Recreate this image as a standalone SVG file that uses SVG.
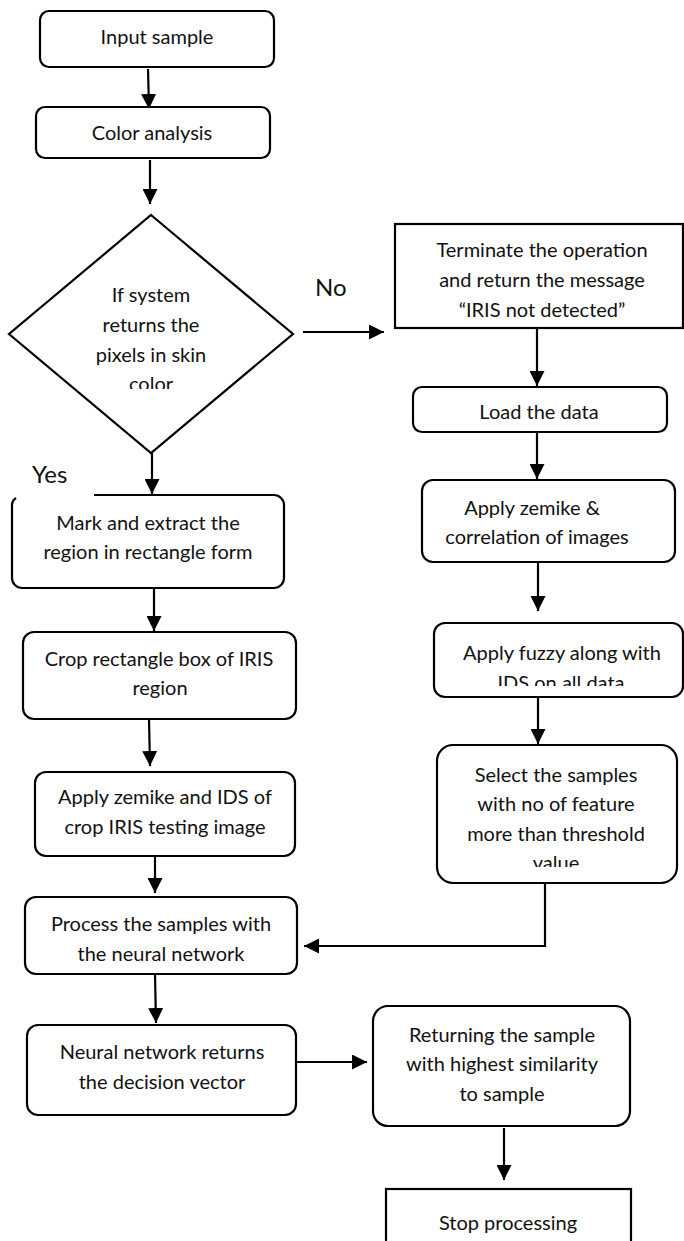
<svg xmlns="http://www.w3.org/2000/svg" width="684" height="1241" viewBox="0 0 684 1241">
<style>
.box{fill:#fff;stroke:#000;stroke-width:2.2}
.t{font-family:Lato,"Liberation Sans",sans-serif;font-size:20px;fill:#111;text-anchor:middle}
.lbl{font-family:Lato,"Liberation Sans",sans-serif;font-size:24px;fill:#111}
.c{fill:none;stroke:#000;stroke-width:2.2;marker-end:url(#ah)}
</style>
<defs>
<marker id="ah" viewBox="0 0 16 16" refX="16" refY="8" markerWidth="15" markerHeight="15" markerUnits="userSpaceOnUse" orient="auto">
<path d="M0,0 L16,8 L0,16 z" fill="#000"/>
</marker>
<clipPath id="clipD"><rect x="0" y="200" width="300" height="189"/></clipPath>
<clipPath id="clipF"><rect x="430" y="620" width="254" height="66"/></clipPath>
<clipPath id="clipS"><rect x="430" y="740" width="254" height="127"/></clipPath>
</defs>
<rect width="684" height="1241" fill="#fff"/>

<g id="connectors">
<path class="c" d="M148,69 L149,109"/>
<path class="c" d="M150,160 L150,204"/>
<path class="c" d="M303,332 L384,332"/>
<path class="c" d="M152,453 L152,494"/>
<path class="c" d="M537,328 L537,386"/>
<path class="c" d="M537,432 L537,479"/>
<path class="c" d="M538,562 L538,611"/>
<path class="c" d="M538,697 L538,744"/>
<path class="c" d="M154,588 L154,631"/>
<path class="c" d="M149,719 L150,766"/>
<path class="c" d="M155,856 L155,893"/>
<path class="c" d="M545,883 V946 H304"/>
<path class="c" d="M155,974 L156,1023"/>
<path class="c" d="M296,1062 H367"/>
<path class="c" d="M504,1128 V1180"/>
</g>

<g id="input-sample">
<rect class="box" x="40" y="11" width="234" height="56" rx="9"/>
<text class="t" x="157" y="44">Input sample</text>
</g>

<g id="color-analysis">
<rect class="box" x="36" y="107" width="234" height="51" rx="9"/>
<text class="t" x="152" y="140">Color analysis</text>
</g>

<g id="decision">
<polygon class="box" points="151,215 293,334 151,453 9,334"/>
<g clip-path="url(#clipD)">
<text class="t" x="151" y="302">If system</text>
<text class="t" x="151" y="332">returns the</text>
<text class="t" x="151" y="362">pixels in skin</text>
<text class="t" x="151" y="391">color</text>
</g>
</g>

<g id="label-no"><text class="lbl" x="315" y="296">No</text></g>
<g id="label-yes"><text class="lbl" x="32" y="483">Yes</text></g>

<g id="terminate">
<rect class="box" x="395" y="224" width="288" height="104"/>
<text class="t" x="542" y="257">Terminate the operation</text>
<text class="t" x="542" y="287">and return the message</text>
<text class="t" x="542" y="317">“IRIS not detected”</text>
</g>

<g id="load-data">
<rect class="box" x="413" y="387" width="254" height="45" rx="9"/>
<text class="t" x="539" y="419">Load the data</text>
</g>

<g id="apply-zemike-correlation">
<rect class="box" x="422" y="480" width="253" height="82" rx="11"/>
<text class="t" x="532" y="515">Apply zemike &amp;</text>
<text class="t" x="537" y="544">correlation of images</text>
</g>

<g id="apply-fuzzy">
<rect class="box" x="434" y="623" width="249" height="74" rx="11"/>
<g clip-path="url(#clipF)">
<text class="t" x="562" y="660">Apply fuzzy along with</text>
<text class="t" x="561" y="690">IDS on all data</text>
</g>
</g>

<g id="select-samples">
<rect class="box" x="437" y="745" width="240" height="138" rx="16"/>
<g clip-path="url(#clipS)">
<text class="t" x="556" y="782">Select the samples</text>
<text class="t" x="556" y="811">with no of feature</text>
<text class="t" x="556" y="841">more than threshold</text>
<text class="t" x="556" y="870">value</text>
</g>
</g>

<g id="mark-extract">
<path class="box" d="M94,495 H274 A10,10 0 0 1 284,505 V578 A10,10 0 0 1 274,588 H22 A10,10 0 0 1 12,578 V506 A9,9 0 0 1 16,498"/>
<text class="t" x="148" y="530">Mark and extract the</text>
<text class="t" x="148" y="559">region in rectangle form</text>
</g>

<g id="crop-box">
<rect class="box" x="23" y="632" width="273" height="87" rx="11"/>
<text class="t" x="159" y="666">Crop rectangle box of IRIS</text>
<text class="t" x="160" y="695">region</text>
</g>

<g id="apply-zemike-ids">
<rect class="box" x="35" y="772" width="260" height="84" rx="11"/>
<text class="t" x="165" y="804">Apply zemike and IDS of</text>
<text class="t" x="165" y="834">crop IRIS testing image</text>
</g>

<g id="process-samples">
<rect class="box" x="25" y="897" width="272" height="77" rx="11"/>
<text class="t" x="161" y="931">Process the samples with</text>
<text class="t" x="161" y="961">the neural network</text>
</g>

<g id="neural-network">
<rect class="box" x="27" y="1025" width="269" height="90" rx="11"/>
<text class="t" x="162" y="1059">Neural network returns</text>
<text class="t" x="162" y="1089">the decision vector</text>
</g>

<g id="returning-sample">
<rect class="box" x="373" y="1006" width="257" height="120" rx="15"/>
<text class="t" x="502" y="1042">Returning the sample</text>
<text class="t" x="502" y="1071">with highest similarity</text>
<text class="t" x="502" y="1101">to sample</text>
</g>

<g id="stop-processing">
<rect class="box" x="386" y="1189" width="245" height="70"/>
<text class="t" x="508" y="1230">Stop processing</text>
</g>
</svg>
